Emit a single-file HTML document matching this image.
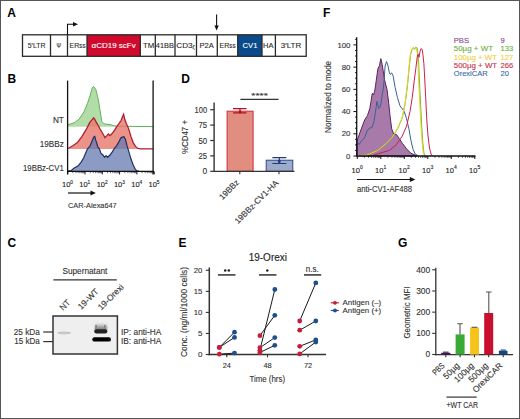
<!DOCTYPE html>
<html><head><meta charset="utf-8"><style>
html,body{margin:0;padding:0;background:#fff;}
body{width:520px;height:419px;overflow:hidden;}
svg{display:block;font-family:"Liberation Sans", sans-serif;}
</style></head><body>
<svg width="520" height="419" viewBox="0 0 520 419">
<rect x="0" y="0" width="520" height="419" fill="#fff"/>
<text x="7.3" y="16.9" font-size="12" fill="#000" text-anchor="start" font-weight="bold" >A</text>
<text x="7.6" y="82.9" font-size="12" fill="#000" text-anchor="start" font-weight="bold" >B</text>
<text x="7.4" y="246.8" font-size="12" fill="#000" text-anchor="start" font-weight="bold" >C</text>
<text x="181.3" y="83" font-size="12" fill="#000" text-anchor="start" font-weight="bold" >D</text>
<text x="178.6" y="247" font-size="12" fill="#000" text-anchor="start" font-weight="bold" >E</text>
<text x="322.9" y="17" font-size="12" fill="#000" text-anchor="start" font-weight="bold" >F</text>
<text x="398" y="247" font-size="12" fill="#000" text-anchor="start" font-weight="bold" >G</text>
<rect x="87" y="34.8" width="53.30000000000001" height="21.5" fill="#d00a2c"/>
<rect x="237.7" y="34.8" width="24.30000000000001" height="21.5" fill="#0b4a8b"/>
<rect x="22.5" y="34.8" width="283.7" height="21.5" fill="none" stroke="#2a2a2a" stroke-width="1.3"/>
<line x1="50.5" y1="34.8" x2="50.5" y2="56.3" stroke="#2a2a2a" stroke-width="1.3"/>
<line x1="67.5" y1="34.8" x2="67.5" y2="56.3" stroke="#2a2a2a" stroke-width="1.3"/>
<line x1="87" y1="34.8" x2="87" y2="56.3" stroke="#2a2a2a" stroke-width="1.3"/>
<line x1="140.3" y1="34.8" x2="140.3" y2="56.3" stroke="#2a2a2a" stroke-width="1.3"/>
<line x1="155.3" y1="34.8" x2="155.3" y2="56.3" stroke="#2a2a2a" stroke-width="1.3"/>
<line x1="175" y1="34.8" x2="175" y2="56.3" stroke="#2a2a2a" stroke-width="1.3"/>
<line x1="196.5" y1="34.8" x2="196.5" y2="56.3" stroke="#2a2a2a" stroke-width="1.3"/>
<line x1="217.3" y1="34.8" x2="217.3" y2="56.3" stroke="#2a2a2a" stroke-width="1.3"/>
<line x1="237.7" y1="34.8" x2="237.7" y2="56.3" stroke="#2a2a2a" stroke-width="1.3"/>
<line x1="262" y1="34.8" x2="262" y2="56.3" stroke="#2a2a2a" stroke-width="1.3"/>
<line x1="275.4" y1="34.8" x2="275.4" y2="56.3" stroke="#2a2a2a" stroke-width="1.3"/>
<text x="27.8" y="48.0" font-size="8" fill="#2a2a2a" text-anchor="start" font-weight="normal" textLength="17.6" lengthAdjust="spacingAndGlyphs"  stroke="#2a2a2a" stroke-width="0.12">5′LTR</text>
<text x="56.6" y="48.0" font-size="7.5" fill="#2a2a2a" text-anchor="start" font-weight="normal" textLength="4.6" lengthAdjust="spacingAndGlyphs"  stroke="#2a2a2a" stroke-width="0.12">Ψ</text>
<text x="69.5" y="48.0" font-size="8" fill="#2a2a2a" textLength="16" lengthAdjust="spacingAndGlyphs" stroke="#2a2a2a" stroke-width="0.12">ER<tspan font-size="7">ss</tspan></text>
<text x="91.5" y="48.0" font-size="8" fill="#fff" text-anchor="start" font-weight="normal" textLength="44.2" lengthAdjust="spacingAndGlyphs"  stroke="#fff" stroke-width="0.12">αCD19 scFv</text>
<text x="143.1" y="48.0" font-size="8" fill="#2a2a2a" text-anchor="start" font-weight="normal" textLength="11.3" lengthAdjust="spacingAndGlyphs"  stroke="#2a2a2a" stroke-width="0.12">TM</text>
<text x="155.8" y="48.0" font-size="8" fill="#2a2a2a" text-anchor="start" font-weight="normal" textLength="18" lengthAdjust="spacingAndGlyphs"  stroke="#2a2a2a" stroke-width="0.12">41BB</text>
<text x="176.3" y="48.0" font-size="8" fill="#2a2a2a" textLength="18.5" lengthAdjust="spacingAndGlyphs" stroke="#2a2a2a" stroke-width="0.12">CD3<tspan font-size="5" dy="1.2">ζ</tspan></text>
<text x="199.5" y="48.0" font-size="8" fill="#2a2a2a" text-anchor="start" font-weight="normal" textLength="14.3" lengthAdjust="spacingAndGlyphs"  stroke="#2a2a2a" stroke-width="0.12">P2A</text>
<text x="219.5" y="48.0" font-size="8" fill="#2a2a2a" textLength="16" lengthAdjust="spacingAndGlyphs" stroke="#2a2a2a" stroke-width="0.12">ER<tspan font-size="7">ss</tspan></text>
<text x="242.6" y="48.0" font-size="8" fill="#fff" text-anchor="start" font-weight="normal" textLength="14.8" lengthAdjust="spacingAndGlyphs"  stroke="#fff" stroke-width="0.12">CV1</text>
<text x="263" y="48.0" font-size="8" fill="#2a2a2a" text-anchor="start" font-weight="normal" textLength="10.4" lengthAdjust="spacingAndGlyphs"  stroke="#2a2a2a" stroke-width="0.12">HA</text>
<text x="280.8" y="48.0" font-size="8" fill="#2a2a2a" text-anchor="start" font-weight="normal" textLength="20.4" lengthAdjust="spacingAndGlyphs"  stroke="#2a2a2a" stroke-width="0.12">3′LTR</text>
<path d="M67.5,34.8 V24.2 H74" fill="none" stroke="#111" stroke-width="1.1"/>
<path d="M73,21.9 L78,24.2 L73,26.5 Z" fill="#111"/>
<path d="M216.6,14.5 V27" fill="none" stroke="#111" stroke-width="1.1"/>
<path d="M214.4,25.6 L216.6,30.6 L218.8,25.6 Z" fill="#111"/>
<path d="M67.60,124.50 L70.00,124.20 L74.30,122.70 L79.10,119.20 L83.90,112.00 L87.40,103.60 L89.80,96.50 L92.20,88.10 L93.40,86.50 L95.80,89.30 L98.20,98.90 L100.10,110.80 L101.80,121.50 L104.20,123.90 L110.00,124.60 L116.00,126.20 L153.10,126.60 L153.10,126.8 L67.60,126.8 Z" fill="#b2dca8" stroke="none"/>
<path d="M67.60,124.50 L70.00,124.20 L74.30,122.70 L79.10,119.20 L83.90,112.00 L87.40,103.60 L89.80,96.50 L92.20,88.10 L93.40,86.50 L95.80,89.30 L98.20,98.90 L100.10,110.80 L101.80,121.50 L104.20,123.90 L110.00,124.60 L116.00,126.20 L153.10,126.60" fill="none" stroke="#5fb35a" stroke-width="1"/>
<path d="M67.60,148.40 L68.90,148.00 L72.80,145.70 L77.40,142.60 L82.00,136.40 L86.70,128.60 L89.80,122.40 L92.10,119.60 L93.70,117.80 L95.20,120.10 L96.80,123.20 L98.30,125.50 L100.70,130.20 L103.00,134.00 L105.00,137.60 L106.90,135.60 L108.40,134.00 L110.00,135.60 L112.30,133.30 L114.60,130.20 L116.90,126.30 L119.30,123.20 L121.10,120.50 L122.70,116.20 L123.60,114.30 L124.70,119.30 L126.20,123.20 L128.60,128.60 L130.90,136.40 L133.20,142.60 L135.50,146.40 L137.90,148.40 L141.00,148.80 L153.10,148.90 L153.10,149 L67.60,149 Z" fill="#e6786a" fill-opacity="0.8" stroke="none"/>
<path d="M67.60,148.40 L68.90,148.00 L72.80,145.70 L77.40,142.60 L82.00,136.40 L86.70,128.60 L89.80,122.40 L92.10,119.60 L93.70,117.80 L95.20,120.10 L96.80,123.20 L98.30,125.50 L100.70,130.20 L103.00,134.00 L105.00,137.60 L106.90,135.60 L108.40,134.00 L110.00,135.60 L112.30,133.30 L114.60,130.20 L116.90,126.30 L119.30,123.20 L121.10,120.50 L122.70,116.20 L123.60,114.30 L124.70,119.30 L126.20,123.20 L128.60,128.60 L130.90,136.40 L133.20,142.60 L135.50,146.40 L137.90,148.40 L141.00,148.80 L153.10,148.90" fill="none" stroke="#b01e34" stroke-width="1.3"/>
<path d="M67.60,171.00 L71.20,170.50 L74.30,168.10 L78.20,165.80 L81.30,161.90 L83.60,158.10 L85.90,152.60 L87.50,148.80 L89.80,146.40 L92.10,141.00 L93.70,137.10 L94.80,136.40 L95.70,140.20 L96.80,143.30 L97.90,147.20 L99.40,148.80 L101.00,153.40 L103.00,155.00 L104.50,157.30 L106.10,155.70 L107.60,157.30 L110.00,155.00 L112.30,151.90 L114.60,148.00 L116.90,145.30 L119.30,141.00 L120.80,137.90 L122.40,137.10 L123.90,136.70 L125.50,139.50 L127.00,145.70 L128.90,151.90 L130.90,158.80 L133.20,165.00 L135.50,169.70 L137.10,170.80 L139.00,171.20 L139.00,171.2 L67.60,171.2 Z" fill="#6478b0" fill-opacity="0.74" stroke="none"/>
<path d="M67.60,171.00 L71.20,170.50 L74.30,168.10 L78.20,165.80 L81.30,161.90 L83.60,158.10 L85.90,152.60 L87.50,148.80 L89.80,146.40 L92.10,141.00 L93.70,137.10 L94.80,136.40 L95.70,140.20 L96.80,143.30 L97.90,147.20 L99.40,148.80 L101.00,153.40 L103.00,155.00 L104.50,157.30 L106.10,155.70 L107.60,157.30 L110.00,155.00 L112.30,151.90 L114.60,148.00 L116.90,145.30 L119.30,141.00 L120.80,137.90 L122.40,137.10 L123.90,136.70 L125.50,139.50 L127.00,145.70 L128.90,151.90 L130.90,158.80 L133.20,165.00 L135.50,169.70 L137.10,170.80 L139.00,171.20" fill="none" stroke="#1f2f62" stroke-width="1.2"/>
<line x1="67.6" y1="80.6" x2="67.6" y2="174.4" stroke="#111" stroke-width="1.3"/>
<line x1="153.1" y1="80.6" x2="153.1" y2="174.4" stroke="#111" stroke-width="1.3"/>
<line x1="67" y1="171.4" x2="153.7" y2="171.4" stroke="#111" stroke-width="1.3"/>
<line x1="67.70" y1="171.4" x2="67.70" y2="174.4" stroke="#111" stroke-width="1"/>
<line x1="72.91" y1="171.4" x2="72.91" y2="173.2" stroke="#111" stroke-width="0.6"/>
<line x1="75.95" y1="171.4" x2="75.95" y2="173.2" stroke="#111" stroke-width="0.6"/>
<line x1="78.12" y1="171.4" x2="78.12" y2="173.2" stroke="#111" stroke-width="0.6"/>
<line x1="79.79" y1="171.4" x2="79.79" y2="173.2" stroke="#111" stroke-width="0.6"/>
<line x1="81.16" y1="171.4" x2="81.16" y2="173.2" stroke="#111" stroke-width="0.6"/>
<line x1="82.32" y1="171.4" x2="82.32" y2="173.2" stroke="#111" stroke-width="0.6"/>
<line x1="83.32" y1="171.4" x2="83.32" y2="173.2" stroke="#111" stroke-width="0.6"/>
<line x1="84.21" y1="171.4" x2="84.21" y2="173.2" stroke="#111" stroke-width="0.6"/>
<text x="66.20" y="187.4" font-size="7.5" fill="#222" text-anchor="middle" stroke="#222" stroke-width="0.12">10</text>
<text x="70.30" y="183.5" font-size="4.8" fill="#222" text-anchor="start" stroke="#222" stroke-width="0.12">0</text>
<line x1="85.00" y1="171.4" x2="85.00" y2="174.4" stroke="#111" stroke-width="1"/>
<line x1="90.21" y1="171.4" x2="90.21" y2="173.2" stroke="#111" stroke-width="0.6"/>
<line x1="93.25" y1="171.4" x2="93.25" y2="173.2" stroke="#111" stroke-width="0.6"/>
<line x1="95.42" y1="171.4" x2="95.42" y2="173.2" stroke="#111" stroke-width="0.6"/>
<line x1="97.09" y1="171.4" x2="97.09" y2="173.2" stroke="#111" stroke-width="0.6"/>
<line x1="98.46" y1="171.4" x2="98.46" y2="173.2" stroke="#111" stroke-width="0.6"/>
<line x1="99.62" y1="171.4" x2="99.62" y2="173.2" stroke="#111" stroke-width="0.6"/>
<line x1="100.62" y1="171.4" x2="100.62" y2="173.2" stroke="#111" stroke-width="0.6"/>
<line x1="101.51" y1="171.4" x2="101.51" y2="173.2" stroke="#111" stroke-width="0.6"/>
<text x="83.50" y="187.4" font-size="7.5" fill="#222" text-anchor="middle" stroke="#222" stroke-width="0.12">10</text>
<text x="87.60" y="183.5" font-size="4.8" fill="#222" text-anchor="start" stroke="#222" stroke-width="0.12">1</text>
<line x1="102.30" y1="171.4" x2="102.30" y2="174.4" stroke="#111" stroke-width="1"/>
<line x1="107.51" y1="171.4" x2="107.51" y2="173.2" stroke="#111" stroke-width="0.6"/>
<line x1="110.55" y1="171.4" x2="110.55" y2="173.2" stroke="#111" stroke-width="0.6"/>
<line x1="112.72" y1="171.4" x2="112.72" y2="173.2" stroke="#111" stroke-width="0.6"/>
<line x1="114.39" y1="171.4" x2="114.39" y2="173.2" stroke="#111" stroke-width="0.6"/>
<line x1="115.76" y1="171.4" x2="115.76" y2="173.2" stroke="#111" stroke-width="0.6"/>
<line x1="116.92" y1="171.4" x2="116.92" y2="173.2" stroke="#111" stroke-width="0.6"/>
<line x1="117.92" y1="171.4" x2="117.92" y2="173.2" stroke="#111" stroke-width="0.6"/>
<line x1="118.81" y1="171.4" x2="118.81" y2="173.2" stroke="#111" stroke-width="0.6"/>
<text x="100.80" y="187.4" font-size="7.5" fill="#222" text-anchor="middle" stroke="#222" stroke-width="0.12">10</text>
<text x="104.90" y="183.5" font-size="4.8" fill="#222" text-anchor="start" stroke="#222" stroke-width="0.12">2</text>
<line x1="119.60" y1="171.4" x2="119.60" y2="174.4" stroke="#111" stroke-width="1"/>
<line x1="124.81" y1="171.4" x2="124.81" y2="173.2" stroke="#111" stroke-width="0.6"/>
<line x1="127.85" y1="171.4" x2="127.85" y2="173.2" stroke="#111" stroke-width="0.6"/>
<line x1="130.02" y1="171.4" x2="130.02" y2="173.2" stroke="#111" stroke-width="0.6"/>
<line x1="131.69" y1="171.4" x2="131.69" y2="173.2" stroke="#111" stroke-width="0.6"/>
<line x1="133.06" y1="171.4" x2="133.06" y2="173.2" stroke="#111" stroke-width="0.6"/>
<line x1="134.22" y1="171.4" x2="134.22" y2="173.2" stroke="#111" stroke-width="0.6"/>
<line x1="135.22" y1="171.4" x2="135.22" y2="173.2" stroke="#111" stroke-width="0.6"/>
<line x1="136.11" y1="171.4" x2="136.11" y2="173.2" stroke="#111" stroke-width="0.6"/>
<text x="118.10" y="187.4" font-size="7.5" fill="#222" text-anchor="middle" stroke="#222" stroke-width="0.12">10</text>
<text x="122.20" y="183.5" font-size="4.8" fill="#222" text-anchor="start" stroke="#222" stroke-width="0.12">3</text>
<line x1="136.90" y1="171.4" x2="136.90" y2="174.4" stroke="#111" stroke-width="1"/>
<line x1="142.11" y1="171.4" x2="142.11" y2="173.2" stroke="#111" stroke-width="0.6"/>
<line x1="145.15" y1="171.4" x2="145.15" y2="173.2" stroke="#111" stroke-width="0.6"/>
<line x1="147.32" y1="171.4" x2="147.32" y2="173.2" stroke="#111" stroke-width="0.6"/>
<line x1="148.99" y1="171.4" x2="148.99" y2="173.2" stroke="#111" stroke-width="0.6"/>
<line x1="150.36" y1="171.4" x2="150.36" y2="173.2" stroke="#111" stroke-width="0.6"/>
<line x1="151.52" y1="171.4" x2="151.52" y2="173.2" stroke="#111" stroke-width="0.6"/>
<line x1="152.52" y1="171.4" x2="152.52" y2="173.2" stroke="#111" stroke-width="0.6"/>
<line x1="153.41" y1="171.4" x2="153.41" y2="173.2" stroke="#111" stroke-width="0.6"/>
<text x="135.40" y="187.4" font-size="7.5" fill="#222" text-anchor="middle" stroke="#222" stroke-width="0.12">10</text>
<text x="139.50" y="183.5" font-size="4.8" fill="#222" text-anchor="start" stroke="#222" stroke-width="0.12">4</text>
<line x1="154.20" y1="171.4" x2="154.20" y2="174.4" stroke="#111" stroke-width="1"/>
<text x="152.70" y="187.4" font-size="7.5" fill="#222" text-anchor="middle" stroke="#222" stroke-width="0.12">10</text>
<text x="156.80" y="183.5" font-size="4.8" fill="#222" text-anchor="start" stroke="#222" stroke-width="0.12">5</text>
<line x1="68" y1="193" x2="91" y2="193" stroke="#111" stroke-width="1.2"/>
<path d="M90.5,190.6 L95.8,193 L90.5,195.4 Z" fill="#111"/>
<text x="68" y="207.8" font-size="8" fill="#333" text-anchor="start" font-weight="normal" textLength="48.7" lengthAdjust="spacingAndGlyphs"  stroke="#333" stroke-width="0.12">CAR-Alexa647</text>
<text x="63.8" y="123.4" font-size="8.2" fill="#333" text-anchor="end" font-weight="normal"  stroke="#333" stroke-width="0.12">NT</text>
<text x="63.8" y="147.1" font-size="8.2" fill="#333" text-anchor="end" font-weight="normal"  stroke="#333" stroke-width="0.12">19BBz</text>
<text x="63.8" y="170.5" font-size="8.2" fill="#333" text-anchor="end" font-weight="normal" textLength="40.8" lengthAdjust="spacingAndGlyphs"  stroke="#333" stroke-width="0.12">19BBz-CV1</text>
<rect x="227.1" y="111.18" width="26" height="60.12" fill="#e18e80" stroke="#d42a3a" stroke-width="1"/>
<rect x="266.2" y="160.21" width="26.6" height="11.09" fill="#9eaacb" stroke="#2c4a8c" stroke-width="1"/>
<path d="M233,108.6 H246.5 M240,108.6 V112.8 M233,112.8 H246.5" stroke="#b0102a" stroke-width="1.2" fill="none"/>
<circle cx="240" cy="112" r="1.4" fill="#b0102a"/>
<path d="M272.4,157.6 H286.3 M279.3,157.6 V163.5 M272.4,163.5 H286.3" stroke="#1c3a7a" stroke-width="1.2" fill="none"/>
<circle cx="279.3" cy="161.5" r="1.4" fill="#1c3a7a"/>
<line x1="214.1" y1="102.4" x2="214.1" y2="171.9" stroke="#333" stroke-width="1.4"/>
<line x1="214" y1="171.3" x2="294.5" y2="171.3" stroke="#333" stroke-width="1.3"/>
<line x1="210.2" y1="109.70" x2="214.1" y2="109.70" stroke="#333" stroke-width="1.2"/>
<text x="207.1" y="112.7" font-size="8.4" fill="#333" text-anchor="end" font-weight="normal" textLength="12.5" lengthAdjust="spacingAndGlyphs"  stroke="#333" stroke-width="0.12">100</text>
<line x1="210.2" y1="125.10" x2="214.1" y2="125.10" stroke="#333" stroke-width="1.2"/>
<text x="207.1" y="128.1" font-size="8.4" fill="#333" text-anchor="end" font-weight="normal" textLength="8.6" lengthAdjust="spacingAndGlyphs"  stroke="#333" stroke-width="0.12">75</text>
<line x1="210.2" y1="140.50" x2="214.1" y2="140.50" stroke="#333" stroke-width="1.2"/>
<text x="207.1" y="143.5" font-size="8.4" fill="#333" text-anchor="end" font-weight="normal" textLength="8.6" lengthAdjust="spacingAndGlyphs"  stroke="#333" stroke-width="0.12">50</text>
<line x1="210.2" y1="155.90" x2="214.1" y2="155.90" stroke="#333" stroke-width="1.2"/>
<text x="207.1" y="158.9" font-size="8.4" fill="#333" text-anchor="end" font-weight="normal" textLength="8.6" lengthAdjust="spacingAndGlyphs"  stroke="#333" stroke-width="0.12">25</text>
<line x1="210.2" y1="171.30" x2="214.1" y2="171.30" stroke="#333" stroke-width="1.2"/>
<text x="207.1" y="174.3" font-size="8.4" fill="#333" text-anchor="end" font-weight="normal"  stroke="#333" stroke-width="0.12">0</text>
<line x1="239.8" y1="171.3" x2="239.8" y2="174.2" stroke="#333" stroke-width="1.1"/>
<line x1="279" y1="171.3" x2="279" y2="174.2" stroke="#333" stroke-width="1.1"/>
<line x1="240.4" y1="99.3" x2="278.5" y2="99.3" stroke="#333" stroke-width="1.3"/>
<text x="259.6" y="97.6" font-size="8" fill="#333" text-anchor="middle" font-weight="normal" textLength="16.5" lengthAdjust="spacingAndGlyphs"  stroke="#333" stroke-width="0.12">****</text>
<text transform="translate(188,137) rotate(-90)" x="0" y="0" font-size="9.5" fill="#333" text-anchor="middle" textLength="34" lengthAdjust="spacingAndGlyphs" stroke="#333" stroke-width="0.12">%CD47 +</text>
<text transform="translate(239.7,183) rotate(-45)" x="0" y="0" font-size="8.3" fill="#333" text-anchor="end" stroke="#333" stroke-width="0.12">19BBz</text>
<text transform="translate(278.8,183.5) rotate(-45)" x="0" y="0" font-size="8.3" fill="#333" text-anchor="end" stroke="#333" stroke-width="0.12">19BBz-CV1-HA</text>
<text x="62.4" y="273.9" font-size="8.3" fill="#333" text-anchor="start" font-weight="normal" textLength="45" lengthAdjust="spacingAndGlyphs"  stroke="#333" stroke-width="0.12">Supernatant</text>
<line x1="53.4" y1="279.8" x2="116.8" y2="279.8" stroke="#333" stroke-width="1.3"/>
<text transform="translate(63,311) rotate(-45)" font-size="8.5" fill="#333" stroke="#333" stroke-width="0.12">NT</text>
<text transform="translate(81.2,310) rotate(-45)" font-size="8.5" fill="#333" stroke="#333" stroke-width="0.12">19-WT</text>
<text transform="translate(101.2,310.6) rotate(-45)" font-size="8.5" fill="#333" stroke="#333" stroke-width="0.12">19-Orexi</text>
<defs><filter id="bl" x="-50%" y="-200%" width="200%" height="500%"><feGaussianBlur stdDeviation="0.6"/></filter><filter id="bl2" x="-50%" y="-200%" width="200%" height="500%"><feGaussianBlur stdDeviation="1.0"/></filter><filter id="bl4" x="-50%" y="-200%" width="200%" height="500%"><feGaussianBlur stdDeviation="0.75"/></filter><filter id="bl3" x="-50%" y="-200%" width="200%" height="500%"><feGaussianBlur stdDeviation="0.35"/></filter></defs>
<linearGradient id="sm" x1="0" y1="0" x2="0" y2="1"><stop offset="0" stop-color="#e0e0e0"/><stop offset="0.5" stop-color="#a8a8a8"/><stop offset="1" stop-color="#555"/></linearGradient>
<rect x="53" y="316" width="64.4" height="38" fill="#efefef" stroke="#333" stroke-width="1.5"/>
<ellipse cx="64.2" cy="332.9" rx="7" ry="1.5" fill="#c8c8c8" filter="url(#bl4)"/>
<rect x="95" y="323.5" width="12" height="7" fill="url(#sm)" filter="url(#bl2)"/>
<rect x="95.2" y="325" width="1.8" height="5" fill="#888" filter="url(#bl)"/>
<rect x="104" y="325" width="1.8" height="5" fill="#888" filter="url(#bl)"/>
<rect x="94.3" y="329.3" width="13" height="4.2" rx="2" fill="#222" filter="url(#bl4)"/>
<rect x="92.3" y="337.2" width="18.7" height="4.4" rx="2.2" fill="#050505" filter="url(#bl3)"/>
<line x1="43.2" y1="332" x2="53" y2="332" stroke="#333" stroke-width="1.2"/>
<line x1="43.2" y1="341.6" x2="53" y2="341.6" stroke="#333" stroke-width="1.2"/>
<text x="13.8" y="334.5" font-size="8.4" fill="#333" text-anchor="start" font-weight="normal" textLength="26" lengthAdjust="spacingAndGlyphs"  stroke="#333" stroke-width="0.12">25 kDa</text>
<text x="14.3" y="344" font-size="8.4" fill="#333" text-anchor="start" font-weight="normal" textLength="25.5" lengthAdjust="spacingAndGlyphs"  stroke="#333" stroke-width="0.12">15 kDa</text>
<text x="121" y="334.5" font-size="8.4" fill="#333" text-anchor="start" font-weight="normal" textLength="40.3" lengthAdjust="spacingAndGlyphs"  stroke="#333" stroke-width="0.12">IP: anti-HA</text>
<text x="121" y="344.1" font-size="8.4" fill="#333" text-anchor="start" font-weight="normal" textLength="40.3" lengthAdjust="spacingAndGlyphs"  stroke="#333" stroke-width="0.12">IB: anti-HA</text>
<text x="248.7" y="261.4" font-size="10" fill="#222" text-anchor="start" font-weight="normal" textLength="38.3" lengthAdjust="spacingAndGlyphs"  stroke="#222" stroke-width="0.12">19-Orexi</text>
<line x1="209.3" y1="267.5" x2="209.3" y2="355.3" stroke="#333" stroke-width="1.5"/>
<line x1="208.6" y1="354.6" x2="326" y2="354.6" stroke="#333" stroke-width="1.5"/>
<line x1="205.8" y1="354.50" x2="209.3" y2="354.50" stroke="#333" stroke-width="1.1"/>
<text x="202.4" y="357.3" font-size="8" fill="#333" text-anchor="end" font-weight="normal"  stroke="#333" stroke-width="0.12">0</text>
<line x1="205.8" y1="333.45" x2="209.3" y2="333.45" stroke="#333" stroke-width="1.1"/>
<text x="202.4" y="336.25" font-size="8" fill="#333" text-anchor="end" font-weight="normal"  stroke="#333" stroke-width="0.12">5</text>
<line x1="205.8" y1="312.40" x2="209.3" y2="312.40" stroke="#333" stroke-width="1.1"/>
<text x="202.4" y="315.2" font-size="8" fill="#333" text-anchor="end" font-weight="normal" textLength="8.6" lengthAdjust="spacingAndGlyphs"  stroke="#333" stroke-width="0.12">10</text>
<line x1="205.8" y1="291.35" x2="209.3" y2="291.35" stroke="#333" stroke-width="1.1"/>
<text x="202.4" y="294.15000000000003" font-size="8" fill="#333" text-anchor="end" font-weight="normal" textLength="8.6" lengthAdjust="spacingAndGlyphs"  stroke="#333" stroke-width="0.12">15</text>
<line x1="205.8" y1="270.30" x2="209.3" y2="270.30" stroke="#333" stroke-width="1.1"/>
<text x="202.4" y="273.1" font-size="8" fill="#333" text-anchor="end" font-weight="normal" textLength="8.6" lengthAdjust="spacingAndGlyphs"  stroke="#333" stroke-width="0.12">20</text>
<line x1="226.75" y1="354.5" x2="226.75" y2="357.3" stroke="#333" stroke-width="1.1"/>
<text x="226.75" y="368.2" font-size="8" fill="#333" text-anchor="middle" font-weight="normal" textLength="8.2" lengthAdjust="spacingAndGlyphs"  stroke="#333" stroke-width="0.12">24</text>
<line x1="267.5" y1="354.5" x2="267.5" y2="357.3" stroke="#333" stroke-width="1.1"/>
<text x="267.5" y="368.2" font-size="8" fill="#333" text-anchor="middle" font-weight="normal" textLength="8.2" lengthAdjust="spacingAndGlyphs"  stroke="#333" stroke-width="0.12">48</text>
<line x1="308" y1="354.5" x2="308" y2="357.3" stroke="#333" stroke-width="1.1"/>
<text x="308" y="368.2" font-size="8" fill="#333" text-anchor="middle" font-weight="normal" textLength="8.2" lengthAdjust="spacingAndGlyphs"  stroke="#333" stroke-width="0.12">72</text>
<text x="249.5" y="381.8" font-size="9" fill="#333" text-anchor="start" font-weight="normal" textLength="35.5" lengthAdjust="spacingAndGlyphs"  stroke="#333" stroke-width="0.12">Time (hrs)</text>
<text transform="translate(187.4,312) rotate(-90)" font-size="8.7" fill="#333" text-anchor="middle" textLength="90" lengthAdjust="spacingAndGlyphs" stroke="#333" stroke-width="0.12">Conc. (ng/ml/1000 cells)</text>
<line x1="217.9" y1="274.9" x2="235.5" y2="274.9" stroke="#4a4a4a" stroke-width="1.7"/>
<line x1="259" y1="274.9" x2="276.5" y2="274.9" stroke="#4a4a4a" stroke-width="1.7"/>
<line x1="304" y1="274.9" x2="321.2" y2="274.9" stroke="#4a4a4a" stroke-width="1.7"/>
<circle cx="225.2" cy="270.5" r="1.25" fill="#222"/>
<circle cx="228.8" cy="270.5" r="1.25" fill="#222"/>
<circle cx="267.3" cy="270.5" r="1.25" fill="#222"/>
<text x="305.8" y="271.6" font-size="8.2" fill="#333" text-anchor="start" font-weight="normal" textLength="13" lengthAdjust="spacingAndGlyphs"  stroke="#333" stroke-width="0.12">n.s.</text>
<line x1="219.3" y1="347.4" x2="234.5" y2="332.2" stroke="#1a1a1a" stroke-width="1"/>
<line x1="219.3" y1="347.4" x2="234.5" y2="337.4" stroke="#1a1a1a" stroke-width="1"/>
<line x1="219.3" y1="354.2" x2="234.5" y2="353.1" stroke="#1a1a1a" stroke-width="1"/>
<line x1="259.9" y1="335.7" x2="274.8" y2="315.3" stroke="#1a1a1a" stroke-width="1"/>
<line x1="259.9" y1="350.3" x2="274.8" y2="289.5" stroke="#1a1a1a" stroke-width="1"/>
<line x1="259.9" y1="347.7" x2="274.8" y2="337.6" stroke="#1a1a1a" stroke-width="1"/>
<line x1="259.9" y1="352.5" x2="274.8" y2="345.3" stroke="#1a1a1a" stroke-width="1"/>
<line x1="299.7" y1="321" x2="315.8" y2="282.9" stroke="#1a1a1a" stroke-width="1"/>
<line x1="299.7" y1="330.2" x2="315.8" y2="321" stroke="#1a1a1a" stroke-width="1"/>
<line x1="299.7" y1="346.3" x2="315.8" y2="339.9" stroke="#1a1a1a" stroke-width="1"/>
<line x1="299.7" y1="353.9" x2="315.8" y2="342" stroke="#1a1a1a" stroke-width="1"/>
<circle cx="219.3" cy="347.4" r="2.4" fill="#c41e3a"/>
<circle cx="234.5" cy="332.2" r="2.4" fill="#1f4e8c"/>
<circle cx="219.3" cy="347.4" r="2.4" fill="#c41e3a"/>
<circle cx="234.5" cy="337.4" r="2.4" fill="#1f4e8c"/>
<circle cx="219.3" cy="354.2" r="2.4" fill="#c41e3a"/>
<circle cx="234.5" cy="353.1" r="2.4" fill="#1f4e8c"/>
<circle cx="259.9" cy="335.7" r="2.4" fill="#c41e3a"/>
<circle cx="274.8" cy="315.3" r="2.4" fill="#1f4e8c"/>
<circle cx="259.9" cy="350.3" r="2.4" fill="#c41e3a"/>
<circle cx="274.8" cy="289.5" r="2.4" fill="#1f4e8c"/>
<circle cx="259.9" cy="347.7" r="2.4" fill="#c41e3a"/>
<circle cx="274.8" cy="337.6" r="2.4" fill="#1f4e8c"/>
<circle cx="259.9" cy="352.5" r="2.4" fill="#c41e3a"/>
<circle cx="274.8" cy="345.3" r="2.4" fill="#1f4e8c"/>
<circle cx="299.7" cy="321" r="2.4" fill="#c41e3a"/>
<circle cx="315.8" cy="282.9" r="2.4" fill="#1f4e8c"/>
<circle cx="299.7" cy="330.2" r="2.4" fill="#c41e3a"/>
<circle cx="315.8" cy="321" r="2.4" fill="#1f4e8c"/>
<circle cx="299.7" cy="346.3" r="2.4" fill="#c41e3a"/>
<circle cx="315.8" cy="339.9" r="2.4" fill="#1f4e8c"/>
<circle cx="299.7" cy="353.9" r="2.4" fill="#c41e3a"/>
<circle cx="315.8" cy="342" r="2.4" fill="#1f4e8c"/>
<line x1="330.8" y1="302.8" x2="338.8" y2="302.8" stroke="#c41e3a" stroke-width="1.2"/>
<circle cx="335" cy="302.8" r="1.9" fill="#c41e3a"/>
<text x="342.6" y="305.0" font-size="7.6" fill="#333" text-anchor="start" font-weight="normal" textLength="38.6" lengthAdjust="spacingAndGlyphs"  stroke="#333" stroke-width="0.12">Antigen (–)</text>
<line x1="330.8" y1="310.5" x2="338.8" y2="310.5" stroke="#1f4e8c" stroke-width="1.2"/>
<circle cx="335" cy="310.5" r="1.9" fill="#1f4e8c"/>
<text x="342.6" y="312.7" font-size="7.6" fill="#333" text-anchor="start" font-weight="normal" textLength="38.6" lengthAdjust="spacingAndGlyphs"  stroke="#333" stroke-width="0.12">Antigen (+)</text>
<path d="M357.40,156.00 L357.40,139.80 L360.50,131.00 L363.90,121.90 L365.00,119.30 L367.40,115.70 L369.80,108.60 L371.00,101.40 L372.10,94.30 L372.70,93.10 L373.60,94.90 L374.50,91.90 L375.50,86.00 L376.30,80.00 L377.90,68.70 L379.40,65.80 L380.80,58.60 L382.20,64.40 L383.70,74.40 L384.60,80.00 L387.00,89.50 L388.80,103.80 L390.00,115.70 L391.70,128.80 L393.70,134.00 L396.50,134.60 L399.40,138.90 L402.30,143.20 L406.60,148.90 L410.90,153.20 L415.20,155.20 L417.00,156.00 Z" fill="#a77aa9" stroke="#5c2364" stroke-width="1"/>
<path d="M357.20,142.10 L359.10,144.50 L361.50,141.00 L363.90,138.60 L365.70,135.00 L366.90,131.40 L369.50,128.00 L372.00,127.50 L373.90,121.70 L375.10,114.50 L376.30,106.20 L376.90,101.40 L377.60,104.00 L378.70,108.60 L379.90,107.40 L381.10,102.60 L382.30,94.30 L383.50,87.10 L384.20,79.00 L385.10,66.00 L386.50,61.50 L388.00,65.80 L389.40,73.00 L390.50,74.50 L391.60,72.80 L393.10,75.80 L395.10,87.30 L397.40,97.30 L400.00,105.90 L402.30,108.80 L404.30,111.60 L406.60,118.80 L408.90,128.80 L410.90,140.30 L412.90,148.90 L415.20,154.00 L418.00,155.70" fill="none" stroke="#3b5f98" stroke-width="1"/>
<path d="M357.30,155.80 L366.50,155.50 L377.90,150.60 L386.50,143.60 L392.20,137.80 L398.00,127.90 L402.30,117.90 L405.10,103.50 L406.90,90.50 L408.00,80.50 L409.30,66.50 L410.70,54.00 L412.10,49.50 L413.60,47.70 L414.60,49.30 L415.90,47.20 L417.00,47.80 L418.00,54.00 L418.80,66.00 L419.40,80.00 L420.50,103.00 L421.70,126.00 L422.80,143.00 L423.90,153.00 L425.00,155.80" fill="none" stroke="#6cb33f" stroke-width="1"/>
<path d="M357.30,155.60 L366.50,155.20 L377.90,150.30 L386.50,143.20 L392.20,137.40 L398.00,127.40 L402.30,117.40 L405.10,103.00 L406.70,90.00 L407.80,80.00 L409.10,66.00 L410.50,53.50 L411.90,49.00 L413.40,47.20 L414.80,49.10 L416.20,47.60 L417.20,52.40 L418.00,63.90 L418.60,80.00 L419.80,103.00 L421.00,126.00 L422.20,143.00 L423.30,153.00 L424.50,155.60" fill="none" stroke="#e6d31e" stroke-width="1"/>
<path d="M372.20,155.60 L389.40,150.30 L396.50,144.60 L402.30,136.00 L406.60,126.00 L410.00,111.60 L412.30,97.30 L414.30,80.00 L415.80,68.70 L417.20,57.20 L418.10,54.30 L419.10,57.20 L420.00,51.50 L421.00,48.60 L422.20,49.50 L422.90,54.30 L423.90,63.90 L424.80,80.00 L425.80,100.00 L426.80,120.00 L428.00,136.00 L429.50,148.00 L431.00,154.00 L432.40,155.60" fill="none" stroke="#cc1f4f" stroke-width="1"/>
<line x1="356.7" y1="37.2" x2="356.7" y2="156.6" stroke="#111" stroke-width="1.3"/>
<line x1="356.1" y1="156" x2="475.5" y2="156" stroke="#111" stroke-width="1.3"/>
<line x1="353.4" y1="156.00" x2="356.7" y2="156.00" stroke="#111" stroke-width="1"/>
<text x="350.4" y="158.7" font-size="7.8" fill="#333" text-anchor="end" font-weight="normal"  stroke="#333" stroke-width="0.12">0</text>
<line x1="355" y1="150.44" x2="356.7" y2="150.44" stroke="#111" stroke-width="0.9"/>
<line x1="355" y1="144.89" x2="356.7" y2="144.89" stroke="#111" stroke-width="0.9"/>
<line x1="355" y1="139.34" x2="356.7" y2="139.34" stroke="#111" stroke-width="0.9"/>
<line x1="353.4" y1="133.78" x2="356.7" y2="133.78" stroke="#111" stroke-width="1"/>
<text x="350.4" y="136.48" font-size="7.8" fill="#333" text-anchor="end" font-weight="normal"  stroke="#333" stroke-width="0.12">20</text>
<line x1="355" y1="128.22" x2="356.7" y2="128.22" stroke="#111" stroke-width="0.9"/>
<line x1="355" y1="122.67" x2="356.7" y2="122.67" stroke="#111" stroke-width="0.9"/>
<line x1="355" y1="117.12" x2="356.7" y2="117.12" stroke="#111" stroke-width="0.9"/>
<line x1="353.4" y1="111.56" x2="356.7" y2="111.56" stroke="#111" stroke-width="1"/>
<text x="350.4" y="114.26" font-size="7.8" fill="#333" text-anchor="end" font-weight="normal"  stroke="#333" stroke-width="0.12">40</text>
<line x1="355" y1="106.00" x2="356.7" y2="106.00" stroke="#111" stroke-width="0.9"/>
<line x1="355" y1="100.45" x2="356.7" y2="100.45" stroke="#111" stroke-width="0.9"/>
<line x1="355" y1="94.90" x2="356.7" y2="94.90" stroke="#111" stroke-width="0.9"/>
<line x1="353.4" y1="89.34" x2="356.7" y2="89.34" stroke="#111" stroke-width="1"/>
<text x="350.4" y="92.04" font-size="7.8" fill="#333" text-anchor="end" font-weight="normal"  stroke="#333" stroke-width="0.12">60</text>
<line x1="355" y1="83.78" x2="356.7" y2="83.78" stroke="#111" stroke-width="0.9"/>
<line x1="355" y1="78.23" x2="356.7" y2="78.23" stroke="#111" stroke-width="0.9"/>
<line x1="355" y1="72.67" x2="356.7" y2="72.67" stroke="#111" stroke-width="0.9"/>
<line x1="353.4" y1="67.12" x2="356.7" y2="67.12" stroke="#111" stroke-width="1"/>
<text x="350.4" y="69.82000000000001" font-size="7.8" fill="#333" text-anchor="end" font-weight="normal"  stroke="#333" stroke-width="0.12">80</text>
<line x1="355" y1="61.56" x2="356.7" y2="61.56" stroke="#111" stroke-width="0.9"/>
<line x1="355" y1="56.01" x2="356.7" y2="56.01" stroke="#111" stroke-width="0.9"/>
<line x1="355" y1="50.45" x2="356.7" y2="50.45" stroke="#111" stroke-width="0.9"/>
<line x1="353.4" y1="44.90" x2="356.7" y2="44.90" stroke="#111" stroke-width="1"/>
<text x="350.4" y="47.60000000000001" font-size="7.8" fill="#333" text-anchor="end" font-weight="normal"  stroke="#333" stroke-width="0.12">100</text>
<line x1="355" y1="39.34" x2="356.7" y2="39.34" stroke="#111" stroke-width="0.9"/>
<line x1="357.30" y1="156" x2="357.30" y2="159" stroke="#111" stroke-width="1"/>
<line x1="364.37" y1="156" x2="364.37" y2="157.8" stroke="#111" stroke-width="0.7"/>
<line x1="368.51" y1="156" x2="368.51" y2="157.8" stroke="#111" stroke-width="0.7"/>
<line x1="371.45" y1="156" x2="371.45" y2="157.8" stroke="#111" stroke-width="0.7"/>
<line x1="373.73" y1="156" x2="373.73" y2="157.8" stroke="#111" stroke-width="0.7"/>
<line x1="375.59" y1="156" x2="375.59" y2="157.8" stroke="#111" stroke-width="0.7"/>
<line x1="377.16" y1="156" x2="377.16" y2="157.8" stroke="#111" stroke-width="0.7"/>
<line x1="378.52" y1="156" x2="378.52" y2="157.8" stroke="#111" stroke-width="0.7"/>
<line x1="379.72" y1="156" x2="379.72" y2="157.8" stroke="#111" stroke-width="0.7"/>
<text x="355.70" y="172.6" font-size="7.5" fill="#222" text-anchor="middle" stroke="#222" stroke-width="0.12">10</text>
<text x="359.90" y="168.6" font-size="5" fill="#222" stroke="#222" stroke-width="0.12">0</text>
<line x1="380.80" y1="156" x2="380.80" y2="159" stroke="#111" stroke-width="1"/>
<line x1="387.87" y1="156" x2="387.87" y2="157.8" stroke="#111" stroke-width="0.7"/>
<line x1="392.01" y1="156" x2="392.01" y2="157.8" stroke="#111" stroke-width="0.7"/>
<line x1="394.95" y1="156" x2="394.95" y2="157.8" stroke="#111" stroke-width="0.7"/>
<line x1="397.23" y1="156" x2="397.23" y2="157.8" stroke="#111" stroke-width="0.7"/>
<line x1="399.09" y1="156" x2="399.09" y2="157.8" stroke="#111" stroke-width="0.7"/>
<line x1="400.66" y1="156" x2="400.66" y2="157.8" stroke="#111" stroke-width="0.7"/>
<line x1="402.02" y1="156" x2="402.02" y2="157.8" stroke="#111" stroke-width="0.7"/>
<line x1="403.22" y1="156" x2="403.22" y2="157.8" stroke="#111" stroke-width="0.7"/>
<text x="379.20" y="172.6" font-size="7.5" fill="#222" text-anchor="middle" stroke="#222" stroke-width="0.12">10</text>
<text x="383.40" y="168.6" font-size="5" fill="#222" stroke="#222" stroke-width="0.12">1</text>
<line x1="404.30" y1="156" x2="404.30" y2="159" stroke="#111" stroke-width="1"/>
<line x1="411.37" y1="156" x2="411.37" y2="157.8" stroke="#111" stroke-width="0.7"/>
<line x1="415.51" y1="156" x2="415.51" y2="157.8" stroke="#111" stroke-width="0.7"/>
<line x1="418.45" y1="156" x2="418.45" y2="157.8" stroke="#111" stroke-width="0.7"/>
<line x1="420.73" y1="156" x2="420.73" y2="157.8" stroke="#111" stroke-width="0.7"/>
<line x1="422.59" y1="156" x2="422.59" y2="157.8" stroke="#111" stroke-width="0.7"/>
<line x1="424.16" y1="156" x2="424.16" y2="157.8" stroke="#111" stroke-width="0.7"/>
<line x1="425.52" y1="156" x2="425.52" y2="157.8" stroke="#111" stroke-width="0.7"/>
<line x1="426.72" y1="156" x2="426.72" y2="157.8" stroke="#111" stroke-width="0.7"/>
<text x="402.70" y="172.6" font-size="7.5" fill="#222" text-anchor="middle" stroke="#222" stroke-width="0.12">10</text>
<text x="406.90" y="168.6" font-size="5" fill="#222" stroke="#222" stroke-width="0.12">2</text>
<line x1="427.80" y1="156" x2="427.80" y2="159" stroke="#111" stroke-width="1"/>
<line x1="434.87" y1="156" x2="434.87" y2="157.8" stroke="#111" stroke-width="0.7"/>
<line x1="439.01" y1="156" x2="439.01" y2="157.8" stroke="#111" stroke-width="0.7"/>
<line x1="441.95" y1="156" x2="441.95" y2="157.8" stroke="#111" stroke-width="0.7"/>
<line x1="444.23" y1="156" x2="444.23" y2="157.8" stroke="#111" stroke-width="0.7"/>
<line x1="446.09" y1="156" x2="446.09" y2="157.8" stroke="#111" stroke-width="0.7"/>
<line x1="447.66" y1="156" x2="447.66" y2="157.8" stroke="#111" stroke-width="0.7"/>
<line x1="449.02" y1="156" x2="449.02" y2="157.8" stroke="#111" stroke-width="0.7"/>
<line x1="450.22" y1="156" x2="450.22" y2="157.8" stroke="#111" stroke-width="0.7"/>
<text x="426.20" y="172.6" font-size="7.5" fill="#222" text-anchor="middle" stroke="#222" stroke-width="0.12">10</text>
<text x="430.40" y="168.6" font-size="5" fill="#222" stroke="#222" stroke-width="0.12">3</text>
<line x1="451.30" y1="156" x2="451.30" y2="159" stroke="#111" stroke-width="1"/>
<line x1="458.37" y1="156" x2="458.37" y2="157.8" stroke="#111" stroke-width="0.7"/>
<line x1="462.51" y1="156" x2="462.51" y2="157.8" stroke="#111" stroke-width="0.7"/>
<line x1="465.45" y1="156" x2="465.45" y2="157.8" stroke="#111" stroke-width="0.7"/>
<line x1="467.73" y1="156" x2="467.73" y2="157.8" stroke="#111" stroke-width="0.7"/>
<line x1="469.59" y1="156" x2="469.59" y2="157.8" stroke="#111" stroke-width="0.7"/>
<line x1="471.16" y1="156" x2="471.16" y2="157.8" stroke="#111" stroke-width="0.7"/>
<line x1="472.52" y1="156" x2="472.52" y2="157.8" stroke="#111" stroke-width="0.7"/>
<line x1="473.72" y1="156" x2="473.72" y2="157.8" stroke="#111" stroke-width="0.7"/>
<text x="449.70" y="172.6" font-size="7.5" fill="#222" text-anchor="middle" stroke="#222" stroke-width="0.12">10</text>
<text x="453.90" y="168.6" font-size="5" fill="#222" stroke="#222" stroke-width="0.12">4</text>
<line x1="474.80" y1="156" x2="474.80" y2="159" stroke="#111" stroke-width="1"/>
<text x="473.20" y="172.6" font-size="7.5" fill="#222" text-anchor="middle" stroke="#222" stroke-width="0.12">10</text>
<text x="477.40" y="168.6" font-size="5" fill="#222" stroke="#222" stroke-width="0.12">5</text>
<line x1="357" y1="179.5" x2="410.5" y2="179.5" stroke="#111" stroke-width="1.2"/>
<path d="M409.8,177 L415.4,179.5 L409.8,182 Z" fill="#111"/>
<text x="357" y="192.3" font-size="8.5" fill="#333" text-anchor="start" font-weight="normal" textLength="55" lengthAdjust="spacingAndGlyphs"  stroke="#333" stroke-width="0.12">anti-CV1-AF488</text>
<text transform="translate(331.2,96.9) rotate(-90)" font-size="9.5" fill="#333" text-anchor="middle" textLength="72" lengthAdjust="spacingAndGlyphs" stroke="#333" stroke-width="0.12">Normalized to mode</text>
<text x="453.8" y="43.4" font-size="7.6" fill="#8a4a8c" text-anchor="start" font-weight="normal"  stroke="#8a4a8c" stroke-width="0.12">PBS</text>
<text x="500.5" y="43.4" font-size="7.6" fill="#8a4a8c" text-anchor="start" font-weight="normal"  stroke="#8a4a8c" stroke-width="0.12">9</text>
<text x="453.8" y="51.45" font-size="7.6" fill="#6cb040" text-anchor="start" font-weight="normal" textLength="39.2" lengthAdjust="spacingAndGlyphs"  stroke="#6cb040" stroke-width="0.12">50µg + WT</text>
<text x="500.5" y="51.45" font-size="7.6" fill="#6cb040" text-anchor="start" font-weight="normal"  stroke="#6cb040" stroke-width="0.12">133</text>
<text x="453.8" y="59.5" font-size="7.6" fill="#f0cf3c" text-anchor="start" font-weight="normal" textLength="43.2" lengthAdjust="spacingAndGlyphs"  stroke="#f0cf3c" stroke-width="0.12">100µg + WT</text>
<text x="500.5" y="59.5" font-size="7.6" fill="#f0cf3c" text-anchor="start" font-weight="normal"  stroke="#f0cf3c" stroke-width="0.12">127</text>
<text x="453.8" y="67.55" font-size="7.6" fill="#c8304c" text-anchor="start" font-weight="normal" textLength="43.4" lengthAdjust="spacingAndGlyphs"  stroke="#c8304c" stroke-width="0.12">500µg + WT</text>
<text x="500.5" y="67.55" font-size="7.6" fill="#c8304c" text-anchor="start" font-weight="normal"  stroke="#c8304c" stroke-width="0.12">266</text>
<text x="453.8" y="75.6" font-size="7.6" fill="#3a6aa6" text-anchor="start" font-weight="normal" textLength="33.9" lengthAdjust="spacingAndGlyphs"  stroke="#3a6aa6" stroke-width="0.12">OrexiCAR</text>
<text x="500.5" y="75.6" font-size="7.6" fill="#3a6aa6" text-anchor="start" font-weight="normal"  stroke="#3a6aa6" stroke-width="0.12">20</text>
<line x1="435.8" y1="267.8" x2="435.8" y2="355.2" stroke="#333" stroke-width="1.3"/>
<line x1="435.2" y1="354.6" x2="513" y2="354.6" stroke="#333" stroke-width="1.3"/>
<line x1="432.2" y1="354.50" x2="435.8" y2="354.50" stroke="#333" stroke-width="1.1"/>
<text x="430.2" y="357.4" font-size="8.3" fill="#333" text-anchor="end" font-weight="normal"  stroke="#333" stroke-width="0.12">0</text>
<line x1="432.2" y1="333.32" x2="435.8" y2="333.32" stroke="#333" stroke-width="1.1"/>
<text x="430.2" y="336.22499999999997" font-size="8.3" fill="#333" text-anchor="end" font-weight="normal" textLength="14" lengthAdjust="spacingAndGlyphs"  stroke="#333" stroke-width="0.12">100</text>
<line x1="432.2" y1="312.15" x2="435.8" y2="312.15" stroke="#333" stroke-width="1.1"/>
<text x="430.2" y="315.04999999999995" font-size="8.3" fill="#333" text-anchor="end" font-weight="normal" textLength="14" lengthAdjust="spacingAndGlyphs"  stroke="#333" stroke-width="0.12">200</text>
<line x1="432.2" y1="290.98" x2="435.8" y2="290.98" stroke="#333" stroke-width="1.1"/>
<text x="430.2" y="293.875" font-size="8.3" fill="#333" text-anchor="end" font-weight="normal" textLength="14" lengthAdjust="spacingAndGlyphs"  stroke="#333" stroke-width="0.12">300</text>
<line x1="432.2" y1="269.80" x2="435.8" y2="269.80" stroke="#333" stroke-width="1.1"/>
<text x="430.2" y="272.7" font-size="8.3" fill="#333" text-anchor="end" font-weight="normal" textLength="14" lengthAdjust="spacingAndGlyphs"  stroke="#333" stroke-width="0.12">400</text>
<rect x="441.2" y="352.81" width="9.20" height="1.79" fill="#3d1454"/>
<rect x="455.6" y="334.38" width="9.00" height="20.22" fill="#3aaa35"/>
<rect x="470.1" y="327.61" width="8.90" height="26.99" fill="#f7c21a"/>
<rect x="484.2" y="313.00" width="9.00" height="41.60" fill="#c8102e"/>
<rect x="498.9" y="350.69" width="8.60" height="3.91" fill="#18457f"/>
<path d="M460,334.38 V323.7 M457.2,323.7 H462.8" stroke="#555" stroke-width="1.1" fill="none"/>
<path d="M471.6,327.3 H477.4" stroke="#555" stroke-width="1.1" fill="none"/>
<path d="M488.8,313.00 V292 M486,292 H491.6" stroke="#555" stroke-width="1.1" fill="none"/>
<path d="M443,352.17 H448.6" stroke="#3d1454" stroke-width="1.1" fill="none"/>
<path d="M500.6,350.05 H505.8" stroke="#18457f" stroke-width="1.1" fill="none"/>
<line x1="445.8" y1="354.6" x2="445.8" y2="357.3" stroke="#333" stroke-width="1.1"/>
<line x1="460.1" y1="354.6" x2="460.1" y2="357.3" stroke="#333" stroke-width="1.1"/>
<line x1="474.5" y1="354.6" x2="474.5" y2="357.3" stroke="#333" stroke-width="1.1"/>
<line x1="488.7" y1="354.6" x2="488.7" y2="357.3" stroke="#333" stroke-width="1.1"/>
<line x1="503.2" y1="354.6" x2="503.2" y2="357.3" stroke="#333" stroke-width="1.1"/>
<text transform="translate(445.2,366.2) rotate(-45)" font-size="8.5" fill="#333" text-anchor="end" textLength="13.5" lengthAdjust="spacingAndGlyphs" stroke="#333" stroke-width="0.12">PBS</text>
<text transform="translate(460,366.2) rotate(-45)" font-size="8.5" fill="#333" text-anchor="end" stroke="#333" stroke-width="0.12">50µg</text>
<text transform="translate(474.4,366.2) rotate(-45)" font-size="8.5" fill="#333" text-anchor="end" stroke="#333" stroke-width="0.12">100µg</text>
<text transform="translate(488.6,366.2) rotate(-45)" font-size="8.5" fill="#333" text-anchor="end" stroke="#333" stroke-width="0.12">500µg</text>
<text transform="translate(503,366.2) rotate(-45)" font-size="8.5" fill="#333" text-anchor="end" stroke="#333" stroke-width="0.12">OrexiCAR</text>
<line x1="446.4" y1="397.1" x2="476.7" y2="397.1" stroke="#333" stroke-width="1.2"/>
<text x="446.4" y="408.3" font-size="8.8" fill="#333" text-anchor="start" font-weight="normal" textLength="31.7" lengthAdjust="spacingAndGlyphs"  stroke="#333" stroke-width="0.12">+WT CAR</text>
<text transform="translate(410.2,312.5) rotate(-90)" font-size="9.5" fill="#333" text-anchor="middle" textLength="52" lengthAdjust="spacingAndGlyphs" stroke="#333" stroke-width="0.12">Geometric MFI</text>
<rect x="0.5" y="0.5" width="519" height="418" fill="none" stroke="#555" stroke-width="1"/>
</svg>
</body></html>
